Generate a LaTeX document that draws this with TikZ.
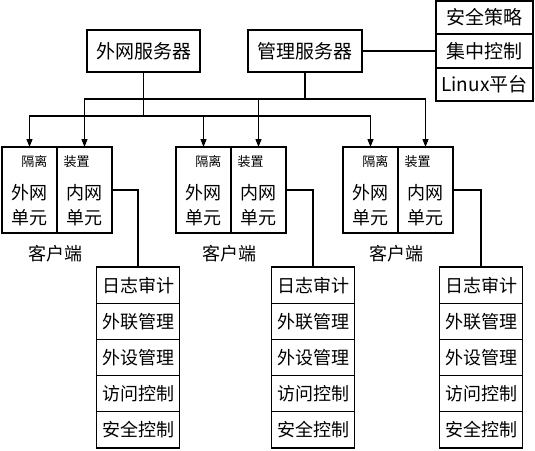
\documentclass[tikz,border=0pt]{standalone}
\usepackage{fontspec}
\setmainfont{Noto Sans CJK SC}
\usetikzlibrary{calc,positioning,arrows.meta}

\begin{document}
\begin{tikzpicture}[x=1pt,y=-1pt,line width=1.2pt,
    box/.style={draw, rectangle, inner sep=0pt, outer sep=0pt},
    big/.style={font=\fontsize{19}{19}\selectfont},
    mid/.style={font=\fontsize{18}{25}\selectfont, align=center, inner sep=0pt},
    tiny/.style={font=\fontsize{13}{13}\selectfont, inner sep=0pt},
    arr/.style={-{Triangle[length=8pt,width=6pt]}}]
    \useasboundingbox (0,0) rectangle (535,450);
    % servers
    \node[box, big, minimum width=113pt, minimum height=42pt] (wfw) at (143.5,51) {外网服务器};
    \node[box, big, minimum width=114pt, minimum height=42pt] (glfw) at (305,51) {管理服务器};
    % policy stack
    \node[box, big, minimum width=97pt, minimum height=33pt] (aqcl) at (484.5,17.5) {安全策略};
    \node[box, big, minimum width=97pt, minimum height=34pt] (jzkz) at (484.5,51) {集中控制};
    \node[box, big, minimum width=97pt, minimum height=33pt] (linux) at (484.5,84.5) {Linux平台};
    \draw (glfw.east) -- (jzkz.west);
    % buses
    \coordinate (wbus) at (143.5,116);
    \coordinate (gbus) at (305,99);
    \draw (wfw.south) -- (wbus);
    \draw (glfw.south) -- (gbus);
    % clients and their modules
    \foreach \i/\x/\m in {1/2/138, 2/176/313, 3/343/481} {
        \node[box, minimum width=55pt, minimum height=86pt] (wl\i) at (\x+27.5,190) {};
        \node[box, minimum width=55pt, minimum height=86pt] (nl\i) at (\x+82.5,190) {};
        \node[tiny, anchor=east] (gl\i) at ($(wl\i.north east)+(-9,15)$) {隔离};
        \node[tiny, anchor=west] (zz\i) at ($(nl\i.north west)+(6,15)$) {装置};
        \node[mid] (wt\i) at ($(wl\i.center)+(0,15.5)$) {外网\\单元};
        \node[mid] (nt\i) at ($(nl\i.center)+(0,15.5)$) {内网\\单元};
        \node[font=\fontsize{18}{18}\selectfont, inner sep=0pt] (kh\i) at ($(wl\i.south east)+(-2,21)$) {客户端};
        \draw[arr] (wbus) -| (wl\i.north);
        \draw[arr] (gbus) -| (nl\i.north);
        \foreach \j/\t in {1/日志审计, 2/外联管理, 3/外设管理, 4/访问控制, 5/安全控制}
            \node[box, font=\fontsize{18}{18}\selectfont, minimum width=83pt, minimum height=36.2pt]
                (mk\i-\j) at (\m,267+36.2*\j-18.1) {\t};
        \draw (nl\i.east) -| (mk\i-1.north);
    }
\end{tikzpicture}
\end{document}
